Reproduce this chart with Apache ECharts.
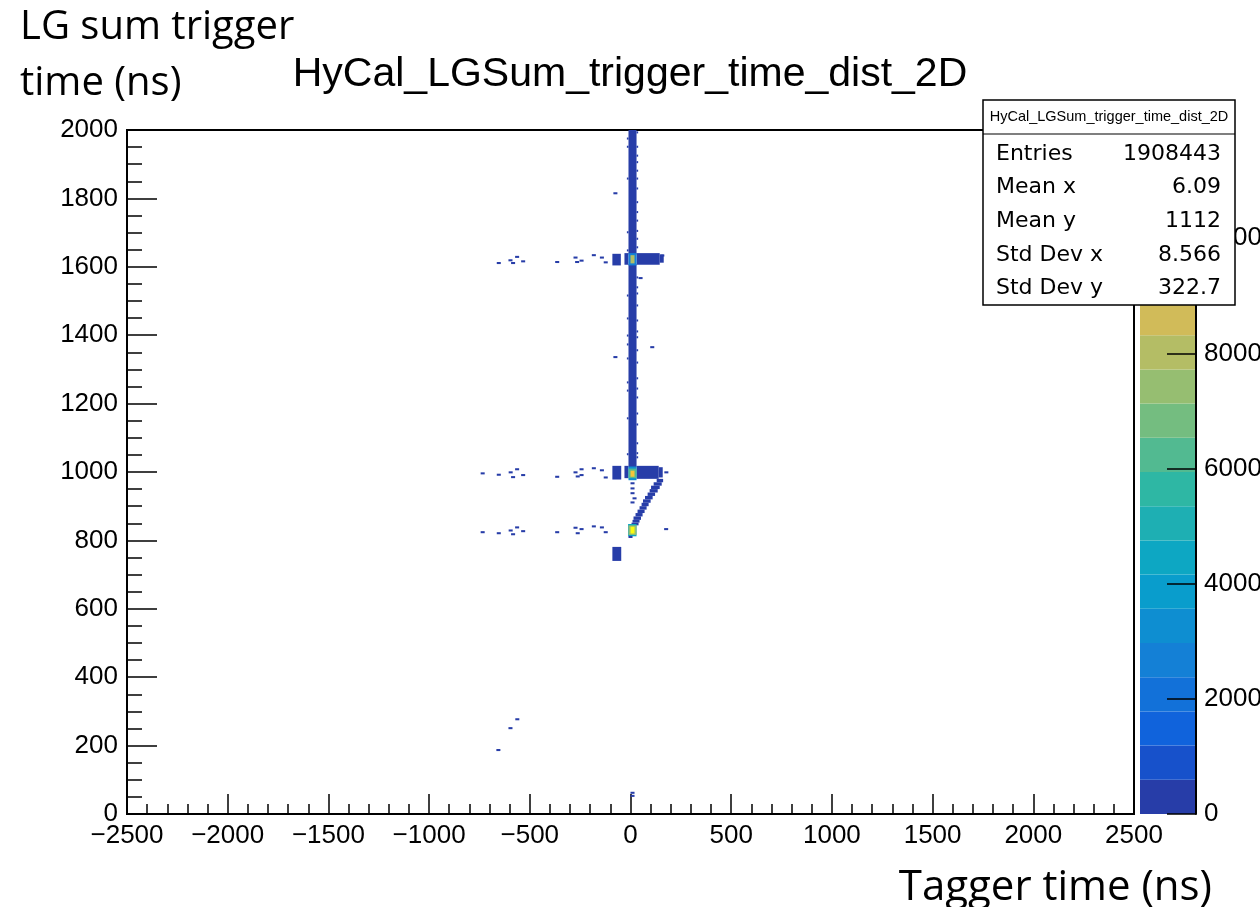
<!DOCTYPE html>
<html lang="en">
<head>
<meta charset="UTF-8">
<title>HyCal_LGSum_trigger_time_dist_2D</title>
<script src="https://cdn.jsdelivr.net/npm/echarts@6/dist/echarts.min.js"></script>
<style>html,body{margin:0;padding:0;background:#fff;}#chart{width:1260px;height:907px;}</style>
</head>
<body>
<div id="chart"></div>
<script>
// filled regions of the histogram: [x0, x1, y0, y1, counts]  (ns, ns, ns, ns, entries)
var blocks = [
    [-10, 30, 1636, 2000, 300],   // vertical band above 1620
    [-10, 30, 1014, 1608, 300],   // vertical band 1000 - 1620
    [-90, -48, 1604, 1638, 250],  // 1620 row
    [-30, -10, 1606, 1640, 250],
    [30, 145, 1606, 1640, 250],
    [145, 165, 1612, 1636, 150],
    [-90, -46, 978, 1018, 250],   // 1000 row
    [-30, -10, 982, 1018, 300],
    [30, 140, 980, 1018, 350],
    [140, 160, 984, 1014, 200],
    [-90, -46, 740, 781, 250],    // block near 760
    // diagonal 830 -> 980
    [5, 40, 844, 852, 350],
    [10, 45, 852, 860, 300],
    [15, 52, 860, 870, 300],
    [25, 60, 870, 880, 300],
    [35, 70, 880, 890, 300],
    [45, 80, 890, 900, 300],
    [55, 90, 900, 910, 300],
    [62, 100, 910, 920, 300],
    [72, 110, 920, 930, 300],
    [85, 122, 930, 940, 300],
    [95, 135, 940, 950, 300],
    [102, 145, 950, 960, 300],
    [115, 155, 960, 970, 300],
    [130, 162, 970, 980, 300],
    // hot spots
    [-10, 30, 1604, 1640, 2600],
    [0, 20, 1610, 1634, 7800],
    [-10, 30, 976, 1016, 3500],
    [-10, 30, 982, 1010, 6200],
    [0, 20, 986, 1004, 9600],
    [-12, 30, 812, 848, 4200],
    [-10, 30, 816, 844, 7200],
    [0, 20, 820, 840, 11500]
];

// single isolated bins: [x, y, counts]
var dots = [
    [-654, 1611, 40], [-596, 1619, 40], [-583, 1611, 40], [-563, 1629, 40], [-533, 1616, 40],
    [-364, 1614, 40], [-273, 1627, 40], [-265, 1614, 40], [-243, 1618, 40], [-182, 1634, 40],
    [-142, 1627, 40], [-123, 1613, 40], [158, 1633, 40],
    [-734, 996, 40], [-654, 992, 40], [-595, 999, 40], [-583, 985, 40], [-563, 1008, 40],
    [-533, 991, 40], [-364, 986, 40], [-273, 999, 40], [-262, 987, 40], [-243, 1008, 40],
    [-243, 991, 40], [-182, 1011, 40], [-142, 1005, 40], [-123, 984, 40], [178, 999, 40],
    [-734, 824, 40], [-654, 821, 40], [-595, 829, 40], [-583, 818, 40], [-563, 838, 40],
    [-533, 827, 40], [-364, 824, 40], [-273, 837, 40], [-262, 821, 40], [-243, 833, 40],
    [-182, 841, 40], [-142, 838, 40], [-123, 824, 40], [177, 833, 40],
    [10, 967, 60], [10, 952, 60], [10, 938, 60], [20, 923, 60], [10, 911, 60], [0, 810, 60],
    [-75, 1815, 40], [-75, 1336, 40], [108, 1365, 40], [50, 1567, 40],
    [-656, 187, 40], [-596, 251, 40], [-562, 277, 40], [10, 62, 40], [10, 53, 40]
];

// ragged edges of the vertical band (y of bins sticking out right / left)
var fringeRight = [1993, 1951, 1925, 1906, 1881, 1858, 1829, 1789, 1760, 1735, 1705, 1682, 1657,
    1569, 1540, 1522, 1487, 1443, 1411, 1394, 1356, 1320, 1274, 1244, 1218, 1171, 1139, 1084, 1055, 1043];
var fringeLeft = [1975, 1951, 1858, 1701, 1648, 1516, 1449, 1399, 1373, 1332, 1262, 1238, 1157, 1052];

var stats = [
    ['Entries', '1908443'],
    ['Mean x', '6.09'],
    ['Mean y', '1112'],
    ['Std Dev x', '8.566'],
    ['Std Dev y', '322.7']
];

var histName = 'HyCal_LGSum_trigger_time_dist_2D';
var zMax = 11880;
var nLevels = 20;
var binX = 20, binY = 6;

// ROOT kBird palette
var birdStops = [0.0, 0.125, 0.25, 0.375, 0.5, 0.625, 0.75, 0.875, 1.0];
var birdR = [0.2082, 0.0592, 0.0780, 0.0232, 0.1802, 0.5301, 0.8186, 0.9956, 0.9764];
var birdG = [0.1664, 0.3599, 0.5041, 0.6419, 0.7178, 0.7492, 0.7328, 0.7862, 0.9832];
var birdB = [0.5293, 0.8684, 0.8385, 0.7914, 0.6425, 0.4662, 0.3499, 0.1968, 0.0539];

function birdColor(f) {
    var k = 0;
    while (k < birdStops.length - 2 && f > birdStops[k + 1]) k++;
    var t = (f - birdStops[k]) / (birdStops[k + 1] - birdStops[k]);
    function c(a) { return Math.round(255 * (a[k] + (a[k + 1] - a[k]) * t)); }
    return 'rgb(' + c(birdR) + ',' + c(birdG) + ',' + c(birdB) + ')';
}

var step = zMax / nLevels;
var pieces = [];
var paletteData = [];
for (var i = 0; i < nLevels; i++) {
    var idx = Math.floor((i + 0.99) * 255 / nLevels);
    pieces.push({ gte: i * step, lt: (i + 1) * step, color: birdColor(idx / 254) });
    paletteData.push([0, 1, i * step, (i + 1) * step, (i + 0.5) * step]);
}
pieces[nLevels - 1].lt = Infinity;

var cells = [];
fringeRight.forEach(function (y) { cells.push([30, 38, y - 3, y + 3, 100]); });
fringeLeft.forEach(function (y) { cells.push([-18, -10, y - 3, y + 3, 100]); });
blocks.forEach(function (b) { cells.push(b); });
dots.forEach(function (d) { cells.push([d[0] - binX / 2, d[0] + binX / 2, d[1] - binY / 2, d[1] + binY / 2, d[2]]); });

function renderCell(params, api) {
    var p0 = api.coord([api.value(0), api.value(3)]);
    var p1 = api.coord([api.value(1), api.value(2)]);
    return {
        type: 'rect',
        shape: { x: p0[0], y: p0[1], width: p1[0] - p0[0], height: p1[1] - p0[1] },
        style: { fill: api.visual('color') }
    };
}

function plainNum(v) { return v < 0 ? '\u2212' + (-v) : String(v); }

var font = 'Liberation Sans, Arial, sans-serif';
var statFont = 'DejaVu Sans, sans-serif';
var myChart = echarts.init(document.getElementById('chart'));

var graphics = [
    { type: 'text', x: 20, y: 28, z: 10,
      style: { text: 'LG sum trigger', font: '40px "Open Sans", sans-serif', fill: '#000', verticalAlign: 'middle' } },
    { type: 'text', x: 20, y: 84, z: 10,
      style: { text: 'time (ns)', font: '40px "Open Sans", sans-serif', fill: '#000', verticalAlign: 'middle' } },
    { type: 'text', x: 1212, y: 888, z: 10,
      style: { text: 'Tagger time (ns)', font: '42px "Open Sans", sans-serif', fill: '#000', align: 'right', verticalAlign: 'middle' } },
    { type: 'rect', z: 20, shape: { x: 983, y: 100, width: 252, height: 205 },
      style: { fill: '#fff', stroke: '#000', lineWidth: 1.5 } },
    { type: 'line', z: 21, shape: { x1: 983, y1: 134, x2: 1235, y2: 134 },
      style: { stroke: '#000', lineWidth: 1.2 } },
    { type: 'text', z: 21, x: 1109, y: 117,
      style: { text: histName, font: '14.5px ' + font, fill: '#000', align: 'center', verticalAlign: 'middle' } }
];
stats.forEach(function (row, k) {
    var y = 154 + k * 33.6;
    graphics.push({ type: 'text', z: 21, x: 996, y: y,
        style: { text: row[0], font: '22px ' + statFont, fill: '#000', align: 'left', verticalAlign: 'middle' } });
    graphics.push({ type: 'text', z: 21, x: 1221, y: y,
        style: { text: row[1], font: '22px ' + statFont, fill: '#000', align: 'right', verticalAlign: 'middle' } });
});

var option = {
    backgroundColor: '#fff',
    animation: false,
    title: {
        text: histName,
        left: 'center',
        top: 49,
        textStyle: { fontFamily: font, fontSize: 41, fontWeight: 'normal', color: '#000' }
    },
    grid: [
        { left: 127, right: 126, top: 130, bottom: 93, outerBoundsMode: 'none',
          show: true, borderColor: '#000', borderWidth: 2 },
        { left: 1140, width: 56, top: 130, bottom: 93, outerBoundsMode: 'none' }
    ],
    xAxis: [{
        type: 'value', gridIndex: 0, min: -2500, max: 2500, interval: 500,
        axisLine: { onZero: false, lineStyle: { color: '#000', width: 2 } },
        axisTick: { inside: true, length: 20, lineStyle: { color: '#000', width: 1.5 } },
        minorTick: { show: true, splitNumber: 5, length: 10, lineStyle: { color: '#000', width: 1.5 } },
        axisLabel: { color: '#000', fontFamily: font, fontSize: 26, margin: 9, formatter: plainNum },
        splitLine: { show: false }
    }, {
        type: 'value', gridIndex: 1, min: 0, max: 1, show: false
    }],
    yAxis: [{
        type: 'value', gridIndex: 0, min: 0, max: 2000, interval: 200,
        axisLine: { onZero: false, lineStyle: { color: '#000', width: 2 } },
        axisTick: { inside: true, length: 30, lineStyle: { color: '#000', width: 1.5 } },
        minorTick: { show: true, splitNumber: 4, length: 15, lineStyle: { color: '#000', width: 1.5 } },
        axisLabel: { color: '#000', fontFamily: font, fontSize: 26, margin: 9, formatter: plainNum },
        splitLine: { show: false }
    }, {
        type: 'value', gridIndex: 1, position: 'right', min: 0, max: zMax, interval: 2000, z: 5,
        axisLine: { show: true, onZero: false, lineStyle: { color: '#000', width: 2 } },
        axisTick: { inside: true, length: 29, lineStyle: { color: '#000', width: 1.5 } },
        axisLabel: { color: '#000', fontFamily: font, fontSize: 26, margin: 8, showMaxLabel: false, formatter: plainNum },
        splitLine: { show: false }
    }],
    visualMap: {
        type: 'piecewise', show: false, dimension: 4, seriesIndex: [0, 1], pieces: pieces
    },
    graphic: graphics,
    series: [{
        type: 'custom',
        xAxisIndex: 0, yAxisIndex: 0,
        renderItem: renderCell,
        encode: { x: [0, 1], y: [2, 3] },
        data: cells
    }, {
        type: 'custom',
        xAxisIndex: 1, yAxisIndex: 1,
        z: 1,
        renderItem: renderCell,
        encode: { x: [0, 1], y: [2, 3] },
        data: paletteData
    }]
};
myChart.setOption(option);
</script>
</body>
</html>
